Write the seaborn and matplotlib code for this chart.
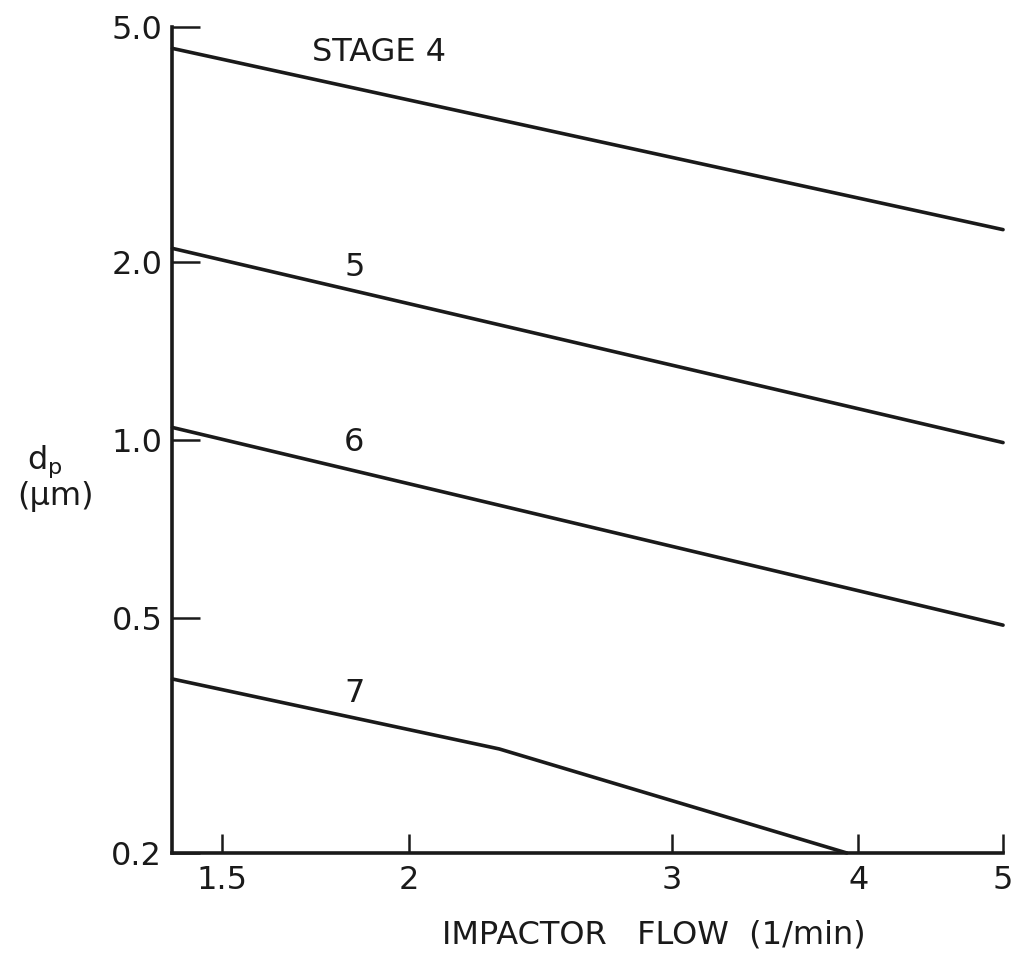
import matplotlib
matplotlib.use("Agg")
import matplotlib.pyplot as plt
import seaborn as sns
import pandas as pd

# ---- data ----
flow_main = [1.39, 5.0]
stage4_dp = [4.60, 2.27]
stage5_dp = [2.11, 0.99]
stage6_dp = [1.05, 0.486]
flow_stage7 = [1.39, 2.30, 3.93]
stage7_dp = [0.394, 0.300, 0.200]

x_ticks = [1.5, 2, 3, 4, 5]
x_ticklabels = ["1.5", "2", "3", "4", "5"]
y_ticks = [0.2, 0.5, 1.0, 2.0, 5.0]
y_ticklabels = ["0.2", "0.5", "1.0", "2.0", "5.0"]

stage_labels = ["STAGE 4", "5", "6", "7"]
label_x = [1.91, 1.84, 1.84, 1.84]
label_y = [4.53, 1.96, 0.99, 0.373]

rows = []
for name, xs, ys in [("4", flow_main, stage4_dp), ("5", flow_main, stage5_dp),
                     ("6", flow_main, stage6_dp), ("7", flow_stage7, stage7_dp)]:
    for xv, yv in zip(xs, ys):
        rows.append({"stage": name, "flow": xv, "dp": yv})
df = pd.DataFrame(rows)

sns.set_style("ticks")
plt.rcParams["font.family"] = ["DejaVu Sans"]

fig = plt.figure(figsize=(10.14, 9.61), dpi=100)
ax = fig.add_axes([0.1696, 0.1124, 0.8196, 0.8595])

sns.lineplot(data=df, x="flow", y="dp", units="stage", estimator=None,
             color="#1a1a1a", linewidth=2.6, ax=ax, legend=False, sort=False)
for ln in ax.lines:
    ln.set_clip_on(False)
    ln.set_solid_capstyle("round")

ax.set_xscale("log")
ax.set_yscale("log")
ax.set_xlim(1.389, 5.0)
ax.set_ylim(0.2, 5.0)
ax.set_xticks(x_ticks)
ax.set_xticklabels(x_ticklabels)
ax.set_yticks(y_ticks)
ax.set_yticklabels(y_ticklabels)
ax.minorticks_off()

for s in ["top", "right"]:
    ax.spines[s].set_visible(False)
for s in ["left", "bottom"]:
    ax.spines[s].set_linewidth(2.6)
    ax.spines[s].set_color("#1a1a1a")

ax.tick_params(axis="y", direction="in", length=20, width=1.8, pad=7,
               labelsize=23, colors="#1a1a1a")
ax.tick_params(axis="x", direction="in", length=14, width=1.8, pad=9,
               labelsize=23, colors="#1a1a1a")

ax.set_xlabel("IMPACTOR   FLOW  (1/min)", fontsize=23, color="#1a1a1a")
ax.xaxis.set_label_coords(0.58, -0.08)
ax.set_ylabel("")

for txt, xv, yv in zip(stage_labels, label_x, label_y):
    ax.text(xv, yv, txt, fontsize=23, ha="center", va="center", color="#1a1a1a")

fig.text(45 / 1014, 1 - 462 / 961, r"d$_{\mathrm{p}}$", fontsize=23,
         ha="center", va="center", color="#1a1a1a")
fig.text(56 / 1014, 1 - 497 / 961, "(\u03bcm)", fontsize=23,
         ha="center", va="center", color="#1a1a1a")

fig.savefig("out.png", dpi=100, facecolor="white")
